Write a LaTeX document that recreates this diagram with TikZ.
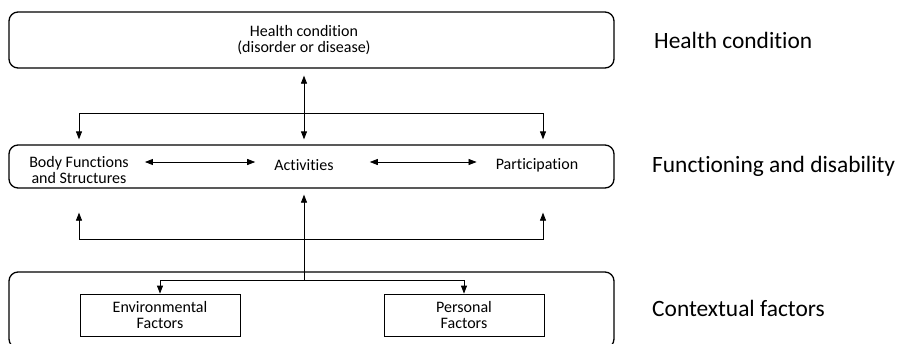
\documentclass[tikz,border=0pt]{standalone}
\usepackage{fontspec}
\setmainfont{Carlito}[Ligatures=NoCommon]
\usetikzlibrary{arrows.meta,calc}
\begin{document}
\begin{tikzpicture}[x=1pt,y=-1pt,
  bigbox/.style={draw,rounded corners=9pt,line width=1.3pt,minimum width=605pt,inner sep=0pt},
  facbox/.style={draw,line width=0.8pt,minimum width=160pt,minimum height=42pt,align=center,font=\fontsize{16}{16.5}\selectfont,inner sep=0pt},
  lbl/.style={align=center,font=\fontsize{16}{16.5}\selectfont,inner sep=0pt},
  side/.style={anchor=base west,font=\fontsize{23.4}{28}\selectfont,inner sep=0pt},
  conn/.style={line width=0.8pt},
  arrowend/.style={-{Triangle[length=8pt,width=6pt]}},
  dblarrow/.style={{Triangle[length=8pt,width=6pt]}-{Triangle[length=8pt,width=6pt]}}
]
\clip (0,0) rectangle (902,343);
% boxes
\node[bigbox,minimum height=56pt] (hcbox) at (311.5,40) {};
\node[lbl] (hc) at (304,40) {Health condition\\(disorder or disease)};
\node[bigbox,minimum height=43pt] (fdbox) at (311.5,166.5) {};
\node[lbl] (body) at (79,170) {Body Functions\\and Structures};
\node[lbl] (act) at (304,165) {Activities};
\node[lbl] (part) at (537,165) {Participation};
\node[bigbox,minimum height=76pt] (cfbox) at (311.5,310) {};
\node[facbox] (env) at (160,315) {Environmental\\Factors};
\node[facbox] (pers) at (464,315) {Personal\\Factors};
% side labels
\node[side] (lhc) at (654,48) {Health condition};
\node[side] (lfd) at (652,172) {Functioning and disability};
\node[side] (lcf) at (652,316) {Contextual factors};
% junctions
\coordinate (jt) at (304,113);
\coordinate (jb) at (304,239);
\coordinate (jc) at (304,280);
\coordinate (pr) at (543,0);
\coordinate (pl) at (79,0);
% top connectors
\draw[conn,dblarrow] ($(hcbox.south -| jt)+(0,7)$) -- ($(fdbox.north -| jt)+(0,-5)$);
\draw[conn,arrowend] (jt) -| ($(fdbox.north -| pl)+(0,-5)$);
\draw[conn,arrowend] (jt) -| ($(fdbox.north -| pr)+(0,-5)$);
% within functioning
\draw[conn,dblarrow] ($(body.east)+(16,-8)$) -- ($(act.west)+(-19,-3)$);
\draw[conn,dblarrow] ($(act.east)+(36,-3)$) -- ($(part.west)+(-19,-3)$);
% bottom connectors
\draw[conn,arrowend] (jb) -| ($(fdbox.south -| pl)+(0,24)$);
\draw[conn,arrowend] (jb) -| ($(fdbox.south -| pr)+(0,24)$);
\draw[conn,arrowend] (jc) -- ($(fdbox.south -| jc)+(0,6)$);
\draw[conn,arrowend] (jc) -| (env.north);
\draw[conn,arrowend] (jc) -| (pers.north);
\end{tikzpicture}
\end{document}
